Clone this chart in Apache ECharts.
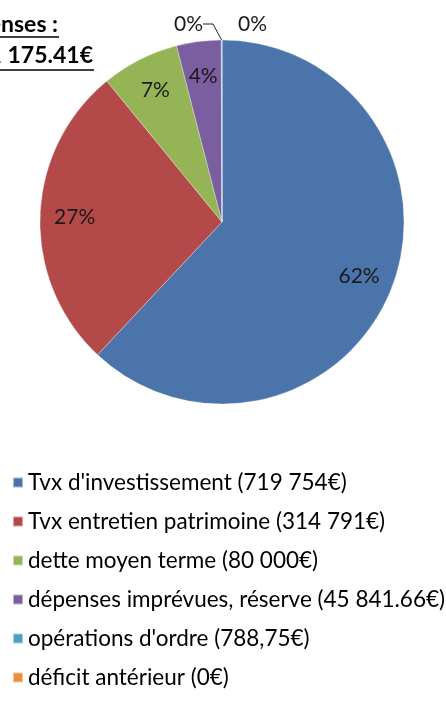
<!DOCTYPE html>
<html>
<head>
<meta charset="utf-8">
<script src="https://cdn.jsdelivr.net/npm/echarts@6/dist/echarts.min.js"></script>
<style>
  html, body { margin: 0; padding: 0; background: #fff; }
  #chart { width: 446px; height: 708px; }
</style>
</head>
<body>
<div id="chart"></div>
<script>
// postes de dépenses (ordre du camembert, sens horaire depuis midi)
const categories = [
  "Tvx d'investissement (719 754€)",
  "Tvx entretien patrimoine (314 791€)",
  "dette moyen terme (80 000€)",
  "dépenses imprévues, réserve (45 841.66€)",
  "opérations d'ordre (788,75€)",
  "déficit antérieur (0€)"
];
const amounts = [719754, 314791, 80000, 45841.66, 788.75, 0];
const colors = ["#4a74aa", "#b4494a", "#94b456", "#7b5ea0", "#4b9fc0", "#eb8e3c"];
const titleLines = ["Total des dépenses :", "1 161 175.41€"];

const FONT = "Lato, 'Open Sans', sans-serif";

const chart = echarts.init(document.getElementById("chart"));

const pieData = categories.map((name, i) => {
  const item = { name, value: amounts[i], itemStyle: { color: colors[i] } };
  if (i === 4) {
    item.label = { position: "outside" };
    item.labelLine = { show: true, length: 11, length2: 10 };
  }
  if (i === 5) {
    item.label = { position: "outside" };
    item.labelLine = { show: false };
  }
  return item;
});

chart.setOption({
  animation: false,
  color: colors,
  graphic: [
    { type: "text", x: 58, y: 13, style: { text: titleLines[0], align: "right", font: "bold 23px " + FONT, fill: "#000" } },
    { type: "line", shape: { x1: 0, y1: 37, x2: 59, y2: 37 }, style: { stroke: "#000", lineWidth: 1.5 } },
    { type: "text", x: 93, y: 44, style: { text: titleLines[1], align: "right", font: "bold 23px " + FONT, fill: "#000" } },
    { type: "line", shape: { x1: 0, y1: 70, x2: 94, y2: 70 }, style: { stroke: "#000", lineWidth: 1.5 } }
  ],
  legend: {
    orient: "vertical",
    left: 7,
    top: 466,
    itemWidth: 10,
    itemHeight: 10,
    itemGap: 16,
    icon: "rect",
    textStyle: { fontFamily: FONT, fontSize: 22.5, color: "#000", lineHeight: 22 },
    data: categories
  },
  series: [{
    type: "pie",
    center: [222, 222],
    radius: [0, 182],
    startAngle: 90,
    clockwise: true,
    avoidLabelOverlap: false,
    itemStyle: { borderColor: "rgba(255,255,255,0.5)", borderWidth: 0.6 },
    label: {
      show: true,
      position: "inside",
      fontFamily: FONT,
      fontSize: 21,
      color: "#1a1a1a",
      formatter: p => Math.round(p.percent) + "%"
    },
    labelLine: { lineStyle: { color: "#222", width: 1 } },
    labelLayout: function (params) {
      const i = params.dataIndex;
      const layout = chart.getModel().getSeriesByIndex(0).getData().getItemLayout(i);
      if (i === 4) {
        // petite part : étiquette à gauche au-dessus du camembert
        return { x: layout.cx - 19, y: layout.cy - layout.r - 16, align: "right", verticalAlign: "middle" };
      }
      if (i === 5) {
        return { x: layout.cx + 16, y: layout.cy - layout.r - 16, align: "left", verticalAlign: "middle" };
      }
      const mid = (layout.startAngle + layout.endAngle) / 2;
      const rr = layout.r * 0.81;
      return {
        x: layout.cx + rr * Math.cos(mid),
        y: layout.cy + rr * Math.sin(mid),
        align: "center",
        verticalAlign: "middle"
      };
    },
    data: pieData
  }]
});
</script>
</body>
</html>
